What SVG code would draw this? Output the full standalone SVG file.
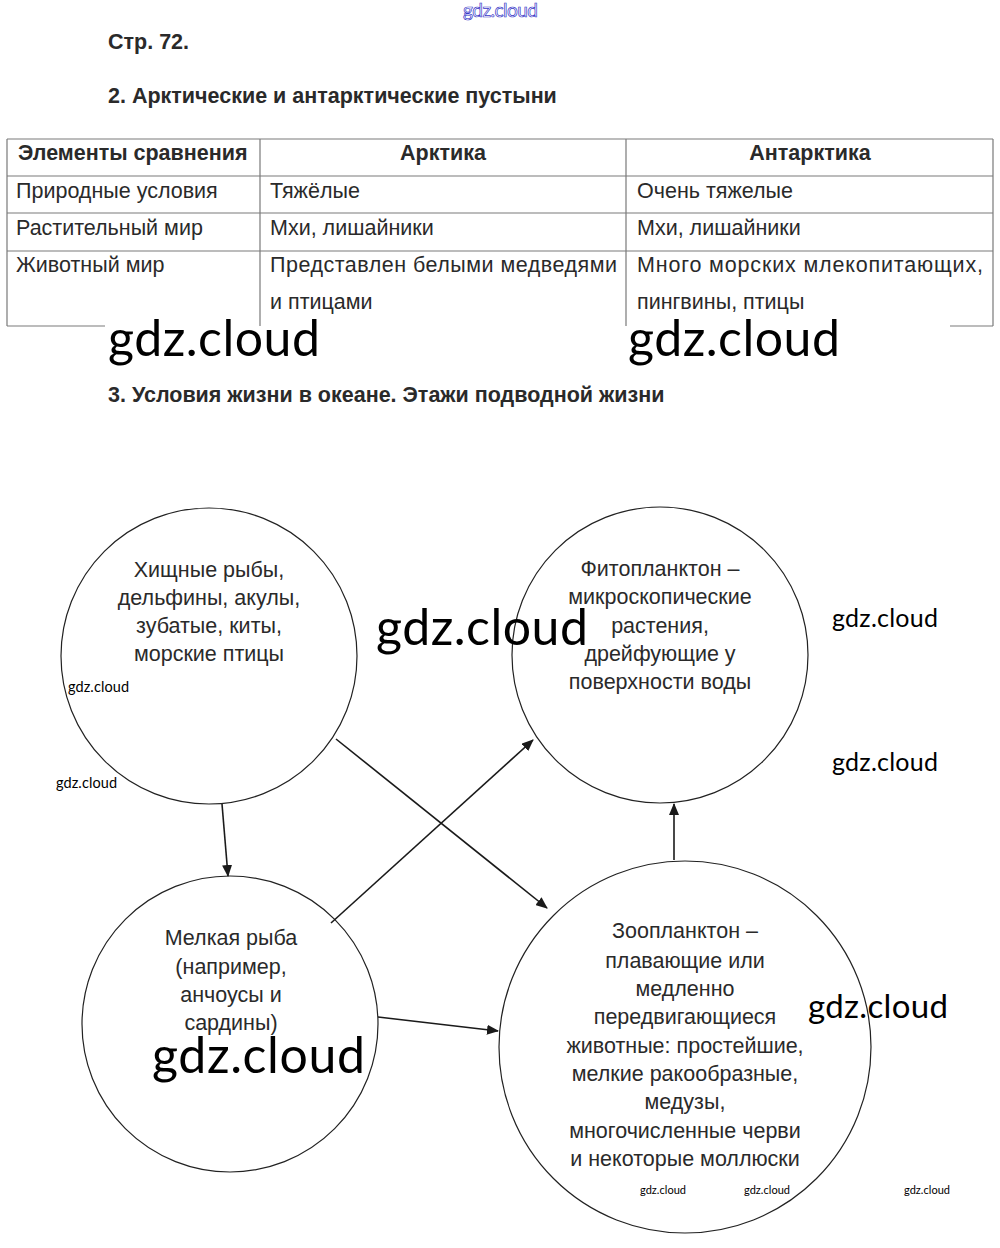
<svg xmlns="http://www.w3.org/2000/svg" width="1000" height="1248" viewBox="0 0 1000 1248">
<defs>
<style>
.t{font-family:"Liberation Sans",Arial,sans-serif;fill:#2a2a2a;font-size:21.5px}
.b{font-weight:bold}
.c{text-anchor:middle}
.grid{stroke:#7a7a7a;stroke-width:1.2;fill:none}
.node{fill:#fff;stroke:#222;stroke-width:1.2}
.con{stroke:#1a1a1a;stroke-width:1.6;fill:none;marker-end:url(#ah)}
.w{font-family:Lato,"Open Sans",sans-serif;fill:#000}
</style>
<marker id="ah" viewBox="0 0 12 10" refX="11" refY="5" markerWidth="12" markerHeight="10" markerUnits="userSpaceOnUse" orient="auto">
<path d="M0,0 L12,5 L0,10 z" fill="#1a1a1a"/>
</marker>
</defs>
<rect width="1000" height="1248" fill="#fff"/>
<text x="463" y="17" font-family="Lato,sans-serif" font-size="19" fill="#fff" stroke="#3838c8" stroke-width="0.7" textLength="75">gdz.cloud</text>
<text class="t b" x="108" y="49">Стр. 72.</text>
<text class="t b" x="108" y="103">2. Арктические и антарктические пустыни</text>
<g id="table">
<path class="grid" d="M7,139 H993 M7,176 H993 M7,213 H993 M7,251 H993 M7,139 V326 M260,139 V326 M626,139 V326 M993,139 V326 M7,326 H105 M950,326 H993"/>
<text class="t b" x="18" y="160">Элементы сравнения</text>
<text class="t b c" x="443" y="160">Арктика</text>
<text class="t b c" x="810" y="160">Антарктика</text>
<text class="t" x="16" y="198">Природные условия</text>
<text class="t" x="270" y="198">Тяжёлые</text>
<text class="t" x="637" y="198">Очень тяжелые</text>
<text class="t" x="16" y="235">Растительный мир</text>
<text class="t" x="270" y="235">Мхи, лишайники</text>
<text class="t" x="637" y="235">Мхи, лишайники</text>
<text class="t" x="16" y="272">Животный мир</text>
<text class="t" x="270" y="272" textLength="347" lengthAdjust="spacing">Представлен белыми медведями</text>
<text class="t" x="270" y="309">и птицами</text>
<text class="t" x="637" y="272" textLength="346" lengthAdjust="spacing">Много морских млекопитающих,</text>
<text class="t" x="637" y="309">пингвины, птицы</text>
</g>
<text class="w" x="108" y="356" font-size="50" textLength="212">gdz.cloud</text>
<text class="w" x="628" y="356" font-size="50" textLength="212">gdz.cloud</text>
<text class="t b" x="108" y="402">3. Условия жизни в океане. Этажи подводной жизни</text>
<g id="predators">
<circle class="node" cx="209" cy="656" r="148"/>
<text class="t c" x="209" y="577">Хищные рыбы,</text>
<text class="t c" x="209" y="605">дельфины, акулы,</text>
<text class="t c" x="209" y="633">зубатые, киты,</text>
<text class="t c" x="209" y="661">морские птицы</text>
</g>
<g id="phytoplankton">
<circle class="node" cx="660" cy="655" r="148"/>
<text class="t c" x="660" y="576">Фитопланктон –</text>
<text class="t c" x="660" y="604">микроскопические</text>
<text class="t c" x="660" y="633">растения,</text>
<text class="t c" x="660" y="661">дрейфующие у</text>
<text class="t c" x="660" y="689">поверхности воды</text>
</g>
<g id="smallfish">
<circle class="node" cx="230" cy="1024" r="148"/>
<text class="t c" x="231" y="945">Мелкая рыба</text>
<text class="t c" x="231" y="974">(например,</text>
<text class="t c" x="231" y="1002">анчоусы и</text>
<text class="t c" x="231" y="1030">сардины)</text>
</g>
<g id="zooplankton">
<circle class="node" cx="685" cy="1047" r="186"/>
<text class="t c" x="685" y="938">Зоопланктон –</text>
<text class="t c" x="685" y="968">плавающие или</text>
<text class="t c" x="685" y="996">медленно</text>
<text class="t c" x="685" y="1024">передвигающиеся</text>
<text class="t c" x="685" y="1053">животные: простейшие,</text>
<text class="t c" x="685" y="1081">мелкие ракообразные,</text>
<text class="t c" x="685" y="1109">медузы,</text>
<text class="t c" x="685" y="1138">многочисленные черви</text>
<text class="t c" x="685" y="1166">и некоторые моллюски</text>
</g>
<g id="connectors">
<line class="con" x1="222" y1="804" x2="228" y2="876"/>
<line class="con" x1="336" y1="739" x2="547" y2="908"/>
<line class="con" x1="331" y1="923" x2="533" y2="740"/>
<line class="con" x1="378" y1="1017" x2="498" y2="1031"/>
<line class="con" x1="674" y1="860" x2="674" y2="804"/>
</g>
<text class="w" x="376" y="645" font-size="50" textLength="212">gdz.cloud</text>
<text class="w" x="152" y="1073" font-size="50" textLength="213">gdz.cloud</text>
<text class="w" x="808" y="1018" font-size="33" textLength="140">gdz.cloud</text>
<text class="w" x="832" y="627" font-size="25" textLength="106">gdz.cloud</text>
<text class="w" x="832" y="771" font-size="25" textLength="106">gdz.cloud</text>
<text class="w" x="68" y="692" font-size="14.5" textLength="61">gdz.cloud</text>
<text class="w" x="56" y="788" font-size="14.5" textLength="61">gdz.cloud</text>
<text class="w" x="640" y="1194" font-size="11" textLength="46">gdz.cloud</text>
<text class="w" x="744" y="1194" font-size="11" textLength="46">gdz.cloud</text>
<text class="w" x="904" y="1194" font-size="11" textLength="46">gdz.cloud</text>
</svg>
